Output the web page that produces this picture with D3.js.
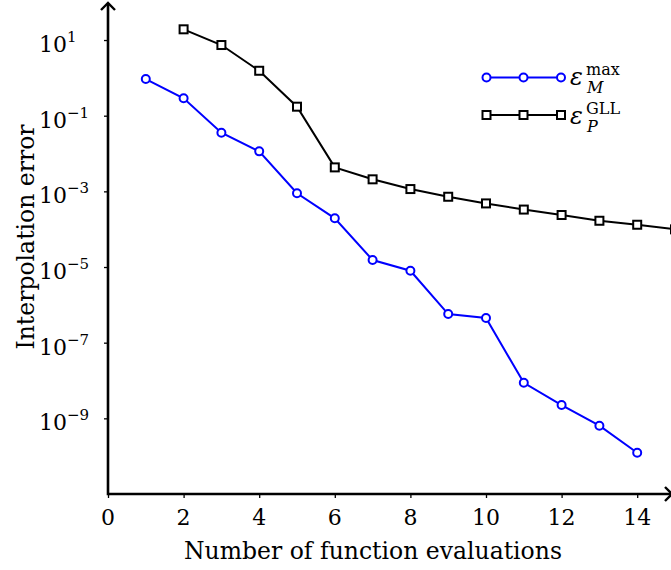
<!DOCTYPE html>
<html>
<head>
<meta charset="utf-8">
<script src="https://cdn.jsdelivr.net/npm/d3@7"></script>
<style>
  body { margin: 0; background: #fff; }
  svg { display: block; font-family: "DejaVu Serif", serif; }
</style>
</head>
<body>
<svg id="chart" width="671" height="570"></svg>
<script>
// data
const evalsM = [1, 2, 3, 4, 5, 6, 7, 8, 9, 10, 11, 12, 13, 14];
const errMax = [0.93, 0.288, 0.0355, 0.0114, 8.9e-4, 1.94e-4, 1.53e-5, 7.97e-6,
                5.7e-7, 4.48e-7, 8.7e-9, 2.25e-9, 6.4e-10, 1.23e-10];
const evalsP = [2, 3, 4, 5, 6, 7, 8, 9, 10, 11, 12, 13, 14, 15];
const errGLL = [19.2, 7.38, 1.54, 0.173, 4.3e-3, 2.08e-3, 1.15e-3, 7.2e-4,
                4.8e-4, 3.3e-4, 2.37e-4, 1.67e-4, 1.31e-4, 9.9e-5];
const xTicks = [0, 2, 4, 6, 8, 10, 12, 14];
const yTickExps = [1, -1, -3, -5, -7, -9];

const svg = d3.select('#chart');

const x = d3.scaleLinear().domain([0, 15]).range([108, 675]);
const y = d3.scaleLog().domain([1e-11, 1e2]).range([494, 2.2]);

// axes
const xAxis = svg.append('g')
    .attr('transform', `translate(0,${y(1e-11)})`)
    .call(d3.axisBottom(x).tickValues(xTicks).tickSize(4).tickSizeOuter(0).tickFormat(''));
xAxis.select('.domain').remove();
xAxis.selectAll('line').attr('stroke-width', 1.3);

const yAxis = svg.append('g')
    .attr('transform', `translate(${x(0)},0)`)
    .call(d3.axisLeft(y).tickValues(yTickExps.map(e => Math.pow(10, e))).tickSize(4).tickSizeOuter(0).tickFormat(''));
yAxis.select('.domain').remove();
yAxis.selectAll('line').attr('stroke-width', 1.3);

svg.append('line')
    .attr('x1', x(0)).attr('x2', 672)
    .attr('y1', y(1e-11)).attr('y2', y(1e-11))
    .attr('stroke', '#000').attr('stroke-width', 2.6);
svg.append('line')
    .attr('x1', x(0)).attr('x2', x(0))
    .attr('y1', y(1e-11) + 1.3).attr('y2', 3)
    .attr('stroke', '#000').attr('stroke-width', 2.6);
// arrow heads
svg.append('path')
    .attr('d', `M${x(0) - 7},10 L${x(0)},3 L${x(0) + 7},10`)
    .attr('fill', 'none').attr('stroke', '#000').attr('stroke-width', 2.4);
svg.append('path')
    .attr('d', `M665,${y(1e-11) - 7} L672,${y(1e-11)} L665,${y(1e-11) + 7}`)
    .attr('fill', 'none').attr('stroke', '#000').attr('stroke-width', 2.4);

// tick labels
svg.append('g').selectAll('text')
    .data(xTicks)
    .join('text')
    .attr('x', d => x(d))
    .attr('y', 525)
    .attr('text-anchor', 'middle')
    .attr('font-size', 22)
    .text(d => d);

const yl = svg.append('g').selectAll('text')
    .data(yTickExps)
    .join('text')
    .attr('x', 39)
    .attr('y', d => y(Math.pow(10, d)) + 12)
    .attr('font-size', 22);
yl.append('tspan').text('10');
yl.append('tspan')
    .attr('dy', -10)
    .attr('font-size', 15)
    .text(d => d < 0 ? '\u2212' + (-d) : d);

// axis titles
svg.append('text')
    .attr('x', 373).attr('y', 559)
    .attr('text-anchor', 'middle')
    .attr('font-size', 23.5)
    .text('Number of function evaluations');
svg.append('text')
    .attr('transform', 'translate(34,237) rotate(-90)')
    .attr('text-anchor', 'middle')
    .attr('font-size', 23.5)
    .text('Interpolation error');

// series
const line = d3.line().x(d => x(d[0])).y(d => y(d[1]));
const ptsM = evalsM.map((e, i) => [e, errMax[i]]);
const ptsP = evalsP.map((e, i) => [e, errGLL[i]]);

svg.append('path')
    .datum(ptsM)
    .attr('d', line)
    .attr('fill', 'none').attr('stroke', '#0000ff').attr('stroke-width', 2);
svg.append('g').selectAll('circle')
    .data(ptsM)
    .join('circle')
    .attr('cx', d => x(d[0])).attr('cy', d => y(d[1]))
    .attr('r', 4)
    .attr('fill', '#fff').attr('stroke', '#0000ff').attr('stroke-width', 2);

svg.append('path')
    .datum(ptsP)
    .attr('d', line)
    .attr('fill', 'none').attr('stroke', '#000').attr('stroke-width', 2);
svg.append('g').selectAll('rect')
    .data(ptsP)
    .join('rect')
    .attr('x', d => x(d[0]) - 4).attr('y', d => y(d[1]) - 4)
    .attr('width', 8).attr('height', 8)
    .attr('fill', '#fff').attr('stroke', '#000').attr('stroke-width', 2);

// legend
const legend = svg.append('g');
const lx = [486.5, 523.5, 561];

legend.append('line')
    .attr('x1', lx[0]).attr('x2', lx[2]).attr('y1', 77.5).attr('y2', 77.5)
    .attr('stroke', '#0000ff').attr('stroke-width', 2);
legend.selectAll('circle')
    .data(lx)
    .join('circle')
    .attr('cx', d => d).attr('cy', 77.5).attr('r', 4)
    .attr('fill', '#fff').attr('stroke', '#0000ff').attr('stroke-width', 2);

legend.append('line')
    .attr('x1', lx[0]).attr('x2', lx[2]).attr('y1', 115).attr('y2', 115)
    .attr('stroke', '#000').attr('stroke-width', 2);
legend.selectAll('rect')
    .data(lx)
    .join('rect')
    .attr('x', d => d - 4).attr('y', 111).attr('width', 8).attr('height', 8)
    .attr('fill', '#fff').attr('stroke', '#000').attr('stroke-width', 2);

function legendLabel(yBase, sup, sub) {
    const t = legend.append('text').attr('font-size', 24);
    t.append('tspan').attr('x', 570).attr('y', yBase)
        .attr('font-style', 'italic').text('\u03b5');
    t.append('tspan').attr('x', 586).attr('y', yBase - 10)
        .attr('font-size', 16).text(sup);
    t.append('tspan').attr('x', 587).attr('y', yBase + 8)
        .attr('font-size', 16).attr('font-style', 'italic').text(sub);
}
legendLabel(85, 'max', 'M');
legendLabel(124, 'GLL', 'P');
</script>
</body>
</html>
